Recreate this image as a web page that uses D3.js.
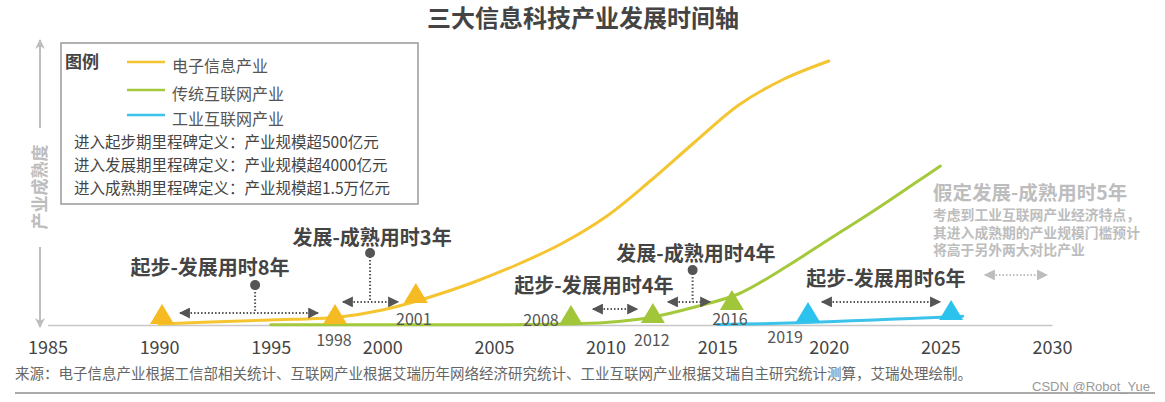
<!DOCTYPE html>
<html>
<head>
<meta charset="utf-8">
<script src="https://cdn.jsdelivr.net/npm/d3@7"></script>
<style>
  body { margin: 0; background: #fff; }
  text { font-family: "Noto Sans CJK SC", "Microsoft YaHei", sans-serif; }
</style>
</head>
<body>
<div id="chart"></div>
<script>
var width = 1165, height = 402;

// Data
var title = '三大信息科技产业发展时间轴';
var yearTicks = [1985, 1990, 1995, 2000, 2005, 2010, 2015, 2020, 2025, 2030];
var seriesNames = ['电子信息产业', '传统互联网产业', '工业互联网产业'];
var definitions = [
  '进入起步期里程碑定义：产业规模超500亿元',
  '进入发展期里程碑定义：产业规模超4000亿元',
  '进入成熟期里程碑定义：产业规模超1.5万亿元'
];
// maturity (0-100) by year
var electronic = [[1990, 0.3], [1992, 0.9], [1994, 1.4], [1996, 1.9], [1998, 2.6], [2000, 5], [2002, 9],
  [2004, 14], [2006, 20], [2008, 27], [2010, 36], [2012, 48], [2014, 61], [2016, 73.5], [2018, 82], [2020, 88]];
var internet = [[1995, 0.1], [2000, 0.1], [2005, 0.1], [2008, 0.3], [2010, 0.8], [2012, 2.5], [2014, 6],
  [2016, 10.5], [2018, 19], [2020, 28.5], [2022, 38], [2024, 48], [2025, 53]];
var industrial = [[2015, 0.2], [2017, 0.4], [2019, 0.8], [2021, 1.4], [2023, 2], [2025, 2.6], [2026, 2.9]];
// milestones: series index, label, plotted time, maturity level, where the label sits
var milestones = [
  { s: 0, label: '1990', t: 1990.13, v: 0.3, place: 'none' },
  { s: 0, label: '1998', t: 1997.88, v: 0.3, place: 'below' },
  { s: 0, label: '2001', t: 2001.5, v: 7.3, place: 'under' },
  { s: 1, label: '2008', t: 2008.45, v: 0, place: 'left' },
  { s: 1, label: '2012', t: 2012.12, v: 0.7, place: 'below' },
  { s: 1, label: '2016', t: 2015.66, v: 5, place: 'under' },
  { s: 2, label: '2019', t: 2019.07, v: 1, place: 'belowLeft' },
  { s: 2, label: '2025', t: 2025.48, v: 1.7, place: 'none' }
];
// duration annotations
var spans = [
  { text: '起步-发展用时8年', tx: 1992.28, tv: 16.7, from: 1990.49, to: 1997.57, v: 4, dot: 1994.3, dotV: 13.3 },
  { text: '发展-成熟用时3年', tx: 1999.54, tv: 26.7, from: 1997.79, to: 2001.15, v: 7.7, dot: 1999.45, dotV: 24 },
  { text: '起步-发展用时4年', tx: 2009.48, tv: 10.7, from: 2008.99, to: 2011.86, v: 5.3, dot: null },
  { text: '发展-成熟用时4年', tx: 2014.05, tv: 21.3, from: 2012.35, to: 2015.13, v: 7.7, dot: 2013.9, dotV: 18.3 },
  { text: '起步-发展用时6年', tx: 2022.56, tv: 13, from: 2019.25, to: 2025.43, v: 7.7, dot: null }
];
var noteTitle = '假定发展-成熟用时5年';
var noteLines = ['考虑到工业互联网产业经济特点，', '其进入成熟期的产业规模门槛预计', '将高于另外两大对比产业'];
var noteArrow = { from: 2026.55, to: 2030.22, v: 16.7 };
var source = '来源：电子信息产业根据工信部相关统计、互联网产业根据艾瑞历年网络经济研究统计、工业互联网产业根据艾瑞自主研究统计测算，艾瑞处理绘制。';

// Visual config
var lineColors = ['#f5c531', '#a4c93d', '#3cc3e9'];
var triColors = ['#f6bb22', '#a2c63a', '#2bc3ee'];
var dark = '#555';
var light = '#bdbdbd';

var x = d3.scaleLinear().domain([1985, 2030]).range([47.5, 1052]);
var y = d3.scaleLinear().domain([0, 100]).range([325, 25]);

var svg = d3.select('#chart')
  .append('svg')
  .attr('width', width)
  .attr('height', height);

var defs = svg.append('defs');
function marker(id, color) {
  defs.append('marker')
    .attr('id', id)
    .attr('viewBox', '0 0 10 10')
    .attr('refX', 9)
    .attr('refY', 5)
    .attr('markerWidth', 11)
    .attr('markerHeight', 11)
    .attr('markerUnits', 'userSpaceOnUse')
    .attr('orient', 'auto-start-reverse')
    .append('path')
    .attr('d', 'M0,0 L10,5 L0,10 Z')
    .attr('fill', color);
}
marker('arrowDark', dark);
marker('arrowLight', light);
defs.append('marker')
  .attr('id', 'axisArrow')
  .attr('viewBox', '0 0 10 10')
  .attr('refX', 9)
  .attr('refY', 5)
  .attr('markerWidth', 12)
  .attr('markerHeight', 10)
  .attr('markerUnits', 'userSpaceOnUse')
  .attr('orient', 'auto-start-reverse')
  .append('path')
  .attr('d', 'M0,0 L10,5 L0,10 L3,5 Z')
  .attr('fill', light);

// title
svg.append('text')
  .attr('x', 583)
  .attr('y', 27)
  .attr('text-anchor', 'middle')
  .attr('font-size', 24)
  .attr('font-weight', 'bold')
  .attr('fill', '#444')
  .text(title);

// y axis arrow and label
svg.append('line')
  .attr('x1', 40).attr('x2', 40)
  .attr('y1', 128).attr('y2', 40)
  .attr('stroke', light).attr('stroke-width', 2)
  .attr('marker-end', 'url(#axisArrow)');
svg.append('line')
  .attr('x1', 40).attr('x2', 40)
  .attr('y1', 247).attr('y2', 327)
  .attr('stroke', light).attr('stroke-width', 2)
  .attr('marker-end', 'url(#axisArrow)');
svg.append('text')
  .attr('transform', 'translate(46,187) rotate(-90)')
  .attr('text-anchor', 'middle')
  .attr('font-size', 17)
  .attr('font-weight', 'bold')
  .attr('fill', light)
  .text('产业成熟度');

// x axis
var xAxis = svg.append('g')
  .attr('transform', 'translate(0,' + y(0) + ')')
  .call(d3.axisBottom(x).tickValues(yearTicks).tickFormat(d3.format('d')).tickSize(0).tickPadding(16));
xAxis.select('.domain').attr('stroke', '#c8c8c8').attr('stroke-width', 1.5);
xAxis.selectAll('text')
  .attr('font-size', 18)
  .attr('fill', '#444')
  .style('font-family', '"Noto Sans CJK SC", sans-serif');

// curves
var line = d3.line()
  .x(function (d) { return x(d[0]); })
  .y(function (d) { return y(d[1]); })
  .curve(d3.curveCatmullRom.alpha(0.5));

svg.selectAll('.curve')
  .data([electronic, internet, industrial])
  .enter()
  .append('path')
  .attr('class', 'curve')
  .attr('d', line)
  .attr('fill', 'none')
  .attr('stroke', function (d, i) { return lineColors[i]; })
  .attr('stroke-width', 3)
  .attr('stroke-linecap', 'round');

// milestone triangles
svg.selectAll('.tri')
  .data(milestones)
  .enter()
  .append('path')
  .attr('class', 'tri')
  .attr('transform', function (d) { return 'translate(' + x(d.t) + ',' + y(d.v) + ')'; })
  .attr('d', 'M-12,0 L0,-20 L12,0 Z')
  .attr('fill', function (d) { return triColors[d.s]; });

// label offsets from the milestone's x and the baseline
var labelPlace = {
  below: { dx: -1, dy: 21 },
  belowLeft: { dx: -23, dy: 18 },
  under: { dx: -2, dy: 0 },
  left: { dx: -30, dy: 1 }
};
svg.selectAll('.ms-label')
  .data(milestones.filter(function (d) { return d.place !== 'none'; }))
  .enter()
  .append('text')
  .attr('class', 'ms-label')
  .attr('text-anchor', 'middle')
  .attr('font-size', 16)
  .attr('fill', '#555')
  .attr('x', function (d) { return x(d.t) + labelPlace[d.place].dx; })
  .attr('y', function (d) { return y(0) + labelPlace[d.place].dy; })
  .text(function (d) { return d.label; });

// span annotations
var ann = svg.selectAll('.span')
  .data(spans)
  .enter()
  .append('g')
  .attr('class', 'span');

ann.append('line')
  .attr('x1', function (d) { return x(d.from) + 10; })
  .attr('x2', function (d) { return x(d.to) - 10; })
  .attr('y1', function (d) { return y(d.v); })
  .attr('y2', function (d) { return y(d.v); })
  .attr('stroke', dark)
  .attr('stroke-width', 2)
  .attr('stroke-dasharray', '1.5,2')
  .attr('marker-start', 'url(#arrowDark)')
  .attr('marker-end', 'url(#arrowDark)');

var withDot = ann.filter(function (d) { return d.dot !== null; });
withDot.append('line')
  .attr('x1', function (d) { return x(d.dot); })
  .attr('x2', function (d) { return x(d.dot); })
  .attr('y1', function (d) { return y(d.dotV); })
  .attr('y2', function (d) { return y(d.v); })
  .attr('stroke', dark)
  .attr('stroke-width', 2)
  .attr('stroke-dasharray', '1.5,2');
withDot.append('circle')
  .attr('cx', function (d) { return x(d.dot); })
  .attr('cy', function (d) { return y(d.dotV); })
  .attr('r', 5)
  .attr('fill', dark);

ann.append('text')
  .attr('x', function (d) { return x(d.tx); })
  .attr('y', function (d) { return y(d.tv); })
  .attr('text-anchor', 'middle')
  .attr('font-size', 20)
  .attr('font-weight', 'bold')
  .attr('fill', '#444')
  .text(function (d) { return d.text; });

// assumption note
svg.append('text')
  .attr('x', 933)
  .attr('y', 200)
  .attr('font-size', 19.5)
  .attr('font-weight', 'bold')
  .attr('fill', light)
  .text(noteTitle);
svg.selectAll('.note-line')
  .data(noteLines)
  .enter()
  .append('text')
  .attr('class', 'note-line')
  .attr('x', 933)
  .attr('y', function (d, i) { return 220 + i * 17.5; })
  .attr('font-size', 13.8)
  .attr('font-weight', 'bold')
  .attr('fill', light)
  .text(function (d) { return d; });
svg.append('line')
  .attr('x1', x(noteArrow.from) + 10)
  .attr('x2', x(noteArrow.to) - 10)
  .attr('y1', y(noteArrow.v))
  .attr('y2', y(noteArrow.v))
  .attr('stroke', light)
  .attr('stroke-width', 2)
  .attr('stroke-dasharray', '1.5,2')
  .attr('marker-start', 'url(#arrowLight)')
  .attr('marker-end', 'url(#arrowLight)');

// legend
var legend = svg.append('g');
legend.append('rect')
  .attr('x', 61).attr('y', 43)
  .attr('width', 357).attr('height', 161)
  .attr('fill', '#fff')
  .attr('stroke', '#999')
  .attr('stroke-width', 1.5);
legend.append('text')
  .attr('x', 65).attr('y', 68)
  .attr('font-size', 17)
  .attr('font-weight', 'bold')
  .attr('fill', '#444')
  .text('图例');
var legendRows = [62, 90, 115];
legend.selectAll('.lg-line')
  .data(seriesNames)
  .enter()
  .append('line')
  .attr('x1', 127).attr('x2', 165)
  .attr('y1', function (d, i) { return legendRows[i]; })
  .attr('y2', function (d, i) { return legendRows[i]; })
  .attr('stroke', function (d, i) { return lineColors[i]; })
  .attr('stroke-width', 2.5);
legend.selectAll('.lg-text')
  .data(seriesNames)
  .enter()
  .append('text')
  .attr('x', 172)
  .attr('y', function (d, i) { return legendRows[i] + 10; })
  .attr('font-size', 16)
  .attr('fill', '#555')
  .text(function (d) { return d; });
legend.selectAll('.def')
  .data(definitions)
  .enter()
  .append('text')
  .attr('x', 74)
  .attr('y', function (d, i) { return 148 + i * 23; })
  .attr('font-size', 15.5)
  .attr('fill', '#444')
  .text(function (d) { return d; });

// source and footer
svg.append('text')
  .attr('x', 15)
  .attr('y', 379)
  .attr('font-size', 14.5)
  .attr('fill', '#666')
  .text(source);
svg.append('line')
  .attr('x1', 15).attr('x2', 1155)
  .attr('y1', 393).attr('y2', 393)
  .attr('stroke', '#aaa')
  .attr('stroke-width', 2);
svg.append('text')
  .attr('x', 1150)
  .attr('y', 391)
  .attr('text-anchor', 'end')
  .attr('font-size', 13)
  .attr('fill', '#999')
  .style('font-family', 'Arial, "Liberation Sans", sans-serif')
  .text('CSDN @Robot_Yue');
</script>
</body>
</html>
